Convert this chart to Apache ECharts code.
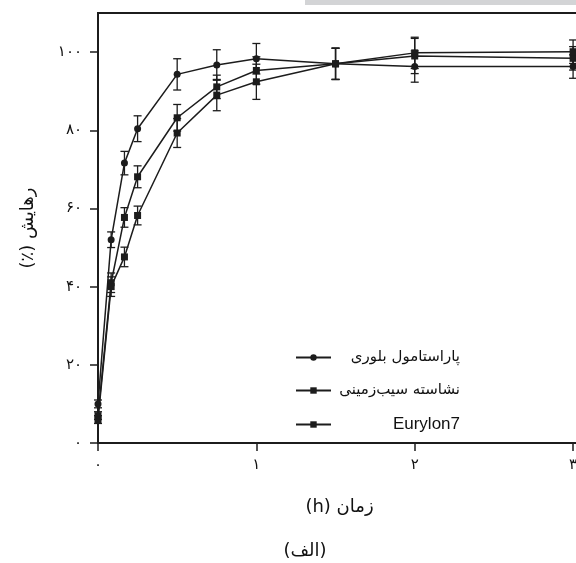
<!DOCTYPE html>
<html>
<head>
<meta charset="utf-8">
<script src="https://cdn.jsdelivr.net/npm/echarts@6/dist/echarts.min.js"></script>
<style>
html, body { margin: 0; padding: 0; background: #fff; }
#main { width: 576px; height: 563px; }
</style>
</head>
<body>
<div id="main"></div>
<script>
// زمان (h)
const times = [0, 0.083, 0.167, 0.25, 0.5, 0.75, 1, 1.5, 2, 3];
// پاراستامول بلوری
const paracetamol = [10, 52, 71.6, 80.4, 94.3, 96.7, 98.3, 97, 96.3, 96.3];
const paracetamolErr = [1, 2, 3, 3.3, 4, 3.9, 3.9, 4, 4, 3];
// نشاسته سیب‌زمینی
const potato = [7, 41, 57.7, 68.1, 83.2, 91.1, 95.3, 97, 99, 98.4];
const potatoErr = [1, 2.5, 2.5, 2.8, 3.4, 3, 3.5, 4, 4.5, 3];
// Eurylon7
const eurylon = [6, 40, 47.6, 58.2, 79.3, 89, 92.4, 97, 99.8, 100.1];
const eurylonErr = [1, 2.5, 2.5, 2.4, 3.7, 4, 4.5, 4, 4, 3];

const names = ['پاراستامول بلوری', 'نشاسته سیب\u200cزمینی', 'Eurylon7'];
const symbols = ['circle', 'rect', 'rect'];
const xTicks = [0, 1, 2, 3];
const xTickLabels = ['۰', '۱', '۲', '۳'];
const yTicks = [0, 20, 40, 60, 80, 100];
const yTickLabels = ['۰', '۲۰', '۴۰', '۶۰', '۸۰', '۱۰۰'];

const ink = '#1c1c1c';
const faFont = 'DejaVu Sans';

function lineSeries(i, values) {
    return {
        name: names[i],
        type: 'line',
        z: 4,
        data: times.map((t, k) => [t, values[k]]),
        symbol: symbols[i],
        symbolSize: 7,
        lineStyle: { color: ink, width: 1.5 },
        itemStyle: { color: ink },
        clip: false
    };
}

// میله خطا با خط عمودی و دو سر کوتاه
function errorSeries(values, errs) {
    return {
        type: 'custom',
        silent: true,
        z: 3,
        clip: false,
        encode: { x: 0, y: [1, 2] },
        data: times.map((t, k) => [t, values[k] - errs[k], values[k] + errs[k]]),
        renderItem: function (params, api) {
            const lo = api.coord([api.value(0), api.value(1)]);
            const hi = api.coord([api.value(0), api.value(2)]);
            const w = 4;
            const style = { stroke: ink, lineWidth: 1.3 };
            return {
                type: 'group',
                children: [
                    { type: 'line', shape: { x1: hi[0], y1: hi[1], x2: lo[0], y2: lo[1] }, style: style },
                    { type: 'line', shape: { x1: hi[0] - w, y1: hi[1], x2: hi[0] + w, y2: hi[1] }, style: style },
                    { type: 'line', shape: { x1: lo[0] - w, y1: lo[1], x2: lo[0] + w, y2: lo[1] }, style: style }
                ]
            };
        }
    };
}

let myChart = echarts.init(document.getElementById('main'));
myChart.setOption({
    backgroundColor: '#fff',
    animation: false,
    grid: {
        left: 98, top: 13, bottom: 120, right: -5,
        outerBoundsMode: 'none',
        containLabel: false,
        show: true, borderColor: ink, borderWidth: 2, backgroundColor: 'transparent'
    },
    xAxis: {
        type: 'value',
        min: 0, max: 3.05, interval: 1,
        name: '\u202Bزمان (h)\u202C',
        nameLocation: 'middle',
        nameGap: 55,
        nameTextStyle: { fontFamily: faFont, fontSize: 18, color: '#111' },
        axisLine: { show: true, lineStyle: { color: ink, width: 2 } },
        axisTick: { show: true, length: 8, customValues: xTicks, lineStyle: { color: ink, width: 1.5 } },
        axisLabel: {
            margin: 15, fontFamily: faFont, fontSize: 15, color: '#111',
            customValues: xTicks,
            formatter: v => xTickLabels[xTicks.indexOf(Math.round(v))] || ''
        },
        splitLine: { show: false }
    },
    yAxis: {
        type: 'value',
        min: 0, max: 110, interval: 20,
        name: '\u202Bرهایش (٪)\u202C',
        nameLocation: 'middle',
        nameRotate: 90,
        nameGap: 61,
        nameTextStyle: { fontFamily: faFont, fontSize: 18, color: '#111' },
        axisLine: { show: true, lineStyle: { color: ink, width: 2 } },
        axisTick: { show: true, length: 8, customValues: yTicks, lineStyle: { color: ink, width: 1.5 } },
        axisLabel: {
            margin: 16, fontFamily: faFont, fontSize: 15, color: '#111',
            customValues: yTicks,
            formatter: v => yTickLabels[yTicks.indexOf(Math.round(v))] || ''
        },
        splitLine: { show: false }
    },
    legend: {
        data: names,
        orient: 'vertical',
        left: 290, top: 345,
        itemWidth: 35, itemHeight: 8, itemGap: 18,
        formatter: n => n === 'Eurylon7' ? '{en|' + n + '}' : '{fa|' + n + '}',
        textStyle: {
            width: 124,
            rich: {
                fa: { align: 'right', fontFamily: faFont, fontSize: 15, lineHeight: 16, color: '#111' },
                en: { align: 'right', fontFamily: 'Liberation Sans', fontSize: 17, lineHeight: 16, color: '#111' }
            }
        }
    },
    graphic: [
        { type: 'rect', shape: { x: 305, y: 0, width: 271, height: 5 }, style: { fill: '#d3d4d6' } },
        {
            type: 'text', x: 305, y: 551,
            style: { text: '\u202B(الف)\u202C', fontFamily: faFont, fontSize: 18, fill: '#111', align: 'center', verticalAlign: 'middle' }
        }
    ],
    series: [
        errorSeries(paracetamol, paracetamolErr),
        errorSeries(potato, potatoErr),
        errorSeries(eurylon, eurylonErr),
        lineSeries(0, paracetamol),
        lineSeries(1, potato),
        lineSeries(2, eurylon)
    ]
});
</script>
</body>
</html>
